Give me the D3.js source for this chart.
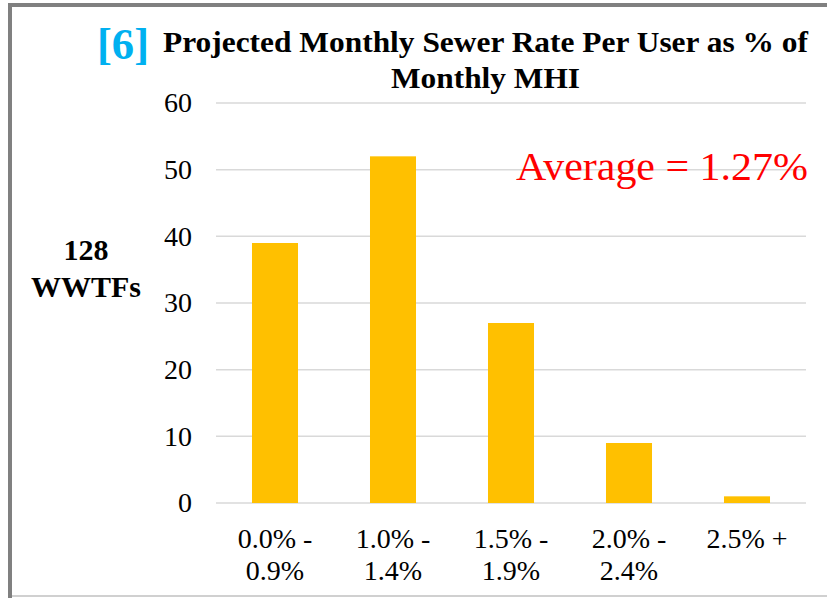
<!DOCTYPE html>
<html>
<head>
<meta charset="utf-8">
<script src="https://cdn.jsdelivr.net/npm/d3@7"></script>
<style>
  body { margin: 0; background: #fff; }
  svg { display: block; font-family: "Liberation Serif", "Times New Roman", serif; }
</style>
</head>
<body>
<svg id="chart" width="827" height="598"></svg>
<script>
// data
const categories = [["0.0% -", "0.9%"], ["1.0% -", "1.4%"], ["1.5% -", "1.9%"], ["2.0% -", "2.4%"], ["2.5% +"]];
const counts = [39, 52, 27, 9, 1];
const yTicks = [0, 10, 20, 30, 40, 50, 60];

const svg = d3.select("#chart");
const width = +svg.attr("width");
const height = +svg.attr("height");

const padding = { top: 103, right: 21, bottom: 95, left: 216 };
const serif = "'Liberation Serif', 'Times New Roman', serif";

// frame
svg.append("rect").attr("x", 8).attr("y", 3).attr("width", width - 8).attr("height", 4).attr("fill", "#808080");
svg.append("rect").attr("x", 8).attr("y", 3).attr("width", 4).attr("height", height - 3).attr("fill", "#808080");
svg.append("rect").attr("x", 12).attr("y", 595).attr("width", width - 12).attr("height", 2).attr("fill", "#d0d0d0");

var xScale = d3.scaleBand()
  .domain(d3.range(categories.length))
  .range([padding.left, width - padding.right])
  .paddingInner(0.61)
  .paddingOuter(0.305);

var yScale = d3.scaleLinear()
  .domain([0, 60])
  .range([height - padding.bottom, padding.top]);

// gridlines
svg.append("g")
  .selectAll("line")
  .data(yTicks)
  .enter()
  .append("line")
  .attr("x1", padding.left)
  .attr("x2", width - padding.right)
  .attr("y1", d => yScale(d))
  .attr("y2", d => yScale(d))
  .attr("stroke", "#d9d9d9")
  .attr("stroke-width", 1.5);

// y axis labels
var yAxis = d3.axisLeft(yScale).tickValues(yTicks).tickSize(0).tickPadding(24);
svg.append("g")
  .attr("transform", `translate(${padding.left},0)`)
  .call(yAxis)
  .call(g => g.select(".domain").remove())
  .selectAll("text")
  .style("font-family", serif)
  .style("font-size", "28px")
  .attr("fill", "#000");

// bars
svg.append("g")
  .selectAll("rect")
  .data(counts)
  .enter()
  .append("rect")
  .attr("x", (d, i) => xScale(i))
  .attr("y", d => yScale(d))
  .attr("width", xScale.bandwidth())
  .attr("height", d => yScale(0) - yScale(d))
  .attr("fill", "#ffc000");

// x labels
var xLabels = svg.append("g")
  .selectAll("text")
  .data(categories)
  .enter()
  .append("text")
  .attr("x", (d, i) => xScale(i) + xScale.bandwidth() / 2)
  .attr("y", 548)
  .attr("text-anchor", "middle")
  .style("font-family", serif)
  .style("font-size", "28px")
  .attr("fill", "#000");

xLabels.selectAll("tspan")
  .data(d => d)
  .enter()
  .append("tspan")
  .attr("x", function() { return d3.select(this.parentNode).attr("x"); })
  .attr("dy", (d, i) => i === 0 ? 0 : 32)
  .text(d => d);

// y title
var yTitle = svg.append("text")
  .attr("text-anchor", "middle")
  .style("font-family", serif)
  .style("font-size", "30px")
  .style("font-weight", "bold")
  .attr("fill", "#000");
yTitle.append("tspan").attr("x", 86).attr("y", 260).text("128");
yTitle.append("tspan").attr("x", 86).attr("y", 297).text("WWTFs");

// title
svg.append("text")
  .attr("x", 97)
  .attr("y", 59)
  .style("font-family", serif)
  .style("font-size", "45px")
  .style("font-weight", "bold")
  .attr("fill", "#00b0f0")
  .attr("textLength", 52)
  .attr("lengthAdjust", "spacingAndGlyphs")
  .text("[6]");

svg.append("text")
  .attr("x", 163)
  .attr("y", 52)
  .style("font-family", serif)
  .style("font-size", "29px")
  .style("font-weight", "bold")
  .attr("fill", "#000")
  .attr("textLength", 645)
  .attr("lengthAdjust", "spacingAndGlyphs")
  .text("Projected Monthly Sewer Rate Per User as % of");

svg.append("text")
  .attr("x", 391)
  .attr("y", 88)
  .style("font-family", serif)
  .style("font-size", "29px")
  .style("font-weight", "bold")
  .attr("fill", "#000")
  .attr("textLength", 189)
  .attr("lengthAdjust", "spacingAndGlyphs")
  .text("Monthly MHI");

// average annotation
svg.append("text")
  .attr("x", 516)
  .attr("y", 180)
  .style("font-family", serif)
  .style("font-size", "41px")
  .attr("fill", "#ff0000")
  .attr("textLength", 292)
  .attr("lengthAdjust", "spacingAndGlyphs")
  .text("Average = 1.27%");
</script>
</body>
</html>
